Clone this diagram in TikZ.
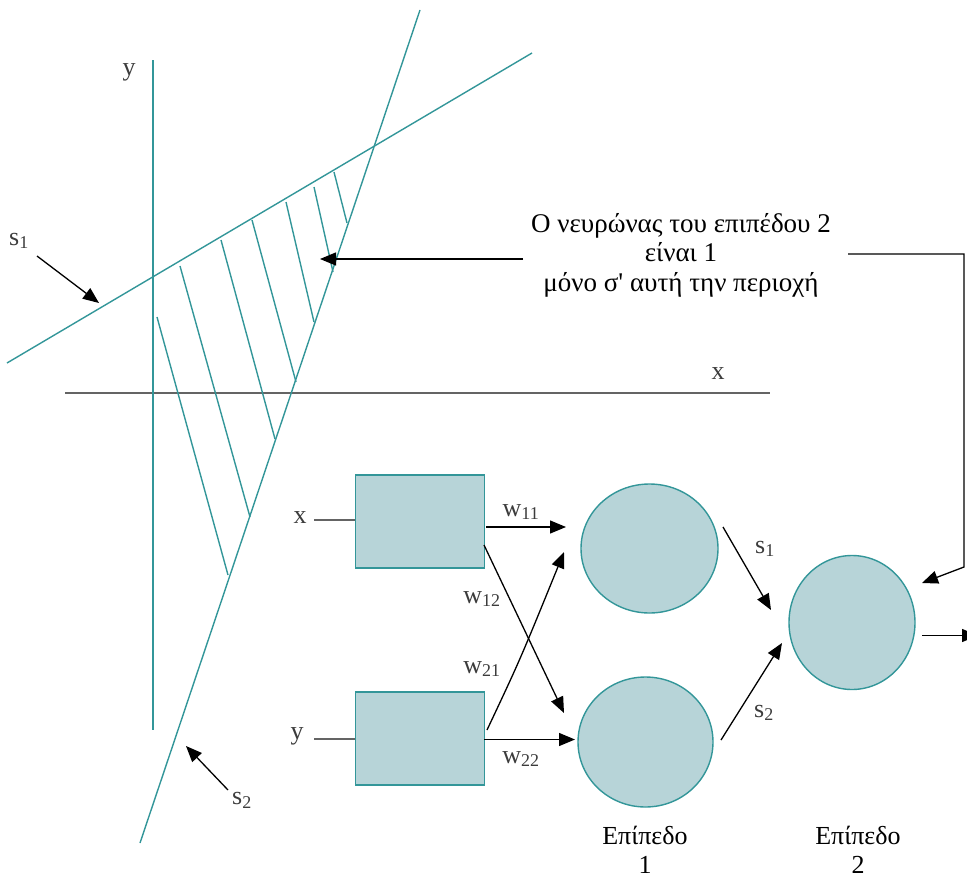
\documentclass[tikz,border=0pt]{standalone}
\usepackage{fontspec}
\setmainfont{Liberation Serif}
\newfontfamily\noligserif{Liberation Serif}[Ligatures=TeXOff]
\usetikzlibrary{arrows.meta,shapes.geometric,calc}
\definecolor{teal1}{RGB}{51,150,153}
\definecolor{fillc}{RGB}{183,212,216}
\definecolor{axisg}{RGB}{100,100,100}
\definecolor{txtg}{RGB}{60,60,60}
\newcommand{\subsz}[1]{\textsubscript{\fontsize{18}{18}\selectfont #1}}
\tikzset{
  tline/.style={draw=teal1, line width=1.4pt},
  arr/.style={draw=black, line width=1.3pt, -{Triangle[length=16pt,width=13pt]}},
  boxn/.style={draw=teal1, fill=fillc, line width=1.4pt, minimum width=129pt, minimum height=93pt, inner sep=0pt},
  neur/.style={ellipse, draw=teal1, fill=fillc, line width=1.4pt, inner sep=0pt},
  lbl/.style={text=txtg, font=\fontsize{26}{28}\selectfont, inner sep=0pt},
  btxt/.style={text=black, font=\fontsize{27}{29.5}\selectfont, inner sep=0pt, align=center},
  ltxt/.style={text=black, font=\fontsize{26}{29}\selectfont, inner sep=0pt, align=center},
}
\begin{document}
\begin{tikzpicture}[x=1pt,y=-1pt]
\useasboundingbox (0,0) rectangle (967,881);
% axes
\draw[draw=axisg, line width=1.4pt] (65,393) -- (770,393);
\draw[tline] (153,60) -- (153,730);
\node[lbl] (ylab) at (129,72) {y};
\node[lbl] (xlab) at (718,374) {x};
% decision lines
\draw[tline] (7,363) -- (532,53);
\draw[tline] (140,843) -- (420,10);
% hatching
\draw[tline] (157,317) -- (228,575);
\draw[tline] (180,266) -- (250,517);
\draw[tline] (221,240) -- (275,439);
\draw[tline] (252,220) -- (296,382);
\draw[tline] (286,202) -- (314,322);
\draw[tline] (314,187) -- (333,272);
\draw[tline] (334,172) -- (347,223);
% s1, s2 labels of lines
\node[lbl] (s1l) at (19,241) {s\subsz{1}};
\coordinate (s1a) at (37,256);
\coordinate (s1b) at (99,303);
\draw[arr] (s1a) -- (s1b);
\node[lbl] (s2l) at (242,800) {s\subsz{2}};
\coordinate (s2a) at (228,790);
\coordinate (s2b) at (186,746);
\draw[arr] (s2a) -- (s2b);
% callout
\node[btxt] (call) at (681,255) {Ο νευρώνας του επιπέδου 2\\είναι 1\\μόνο σ{\noligserif '} αυτή την περιοχή};
\coordinate (ca) at (523,259);
\coordinate (cb) at (320,259);
\draw[arr] (ca) -- (cb);
% network
\node[boxn] (b1) at (420,521.5) {};
\node[boxn] (b2) at (420,738.5) {};
\node[neur, minimum width=137pt, minimum height=129pt] (c1) at (649.5,548.5) {};
\node[neur, minimum width=135pt, minimum height=130pt] (c2) at (645.5,742) {};
\node[neur, minimum width=126pt, minimum height=134pt] (c3) at (852,622.5) {};
% inputs
\node[lbl] (xin) at (300,518) {x};
\node[lbl] (yin) at (297,736) {y};
\draw[draw=axisg, line width=1.4pt] (314,520) -- (b1.west |- 0,520);
\draw[draw=axisg, line width=1.4pt] (314,739) -- (b2.west |- 0,739);
% weights
\coordinate (w11s) at (486,527);
\coordinate (w11e) at (566,527);
\draw[arr] (w11s) -- (w11e);
\coordinate (w12s) at (484,545);
\coordinate (w12e) at (564,713);
\draw[arr] (w12s) -- (w12e);
\coordinate (w21s) at (487,730);
\coordinate (w21e) at (564,552);
\draw[arr] (w21s) .. controls (520,660) .. (w21e);
\coordinate (w22s) at (484,739.5);
\coordinate (w22e) at (575,739.5);
\draw[arr] (w22s) -- (w22e);
\node[lbl] (w11) at (521,512) {w\subsz{11}};
\node[lbl] (w12) at (482,599) {w\subsz{12}};
\node[lbl] (w21) at (482,669) {w\subsz{21}};
\node[lbl] (w22) at (521,759) {w\subsz{22}};
% layer 1 -> layer 2
\coordinate (o1s) at (723,527);
\coordinate (o1e) at (771,610);
\draw[arr] (o1s) -- (o1e);
\coordinate (o2s) at (721,740);
\coordinate (o2e) at (782,643);
\draw[arr] (o2s) -- (o2e);
\node[lbl] (s1n) at (765,549) {s\subsz{1}};
\node[lbl] (s2n) at (764,713) {s\subsz{2}};
% output
\coordinate (outs) at (922,635.5);
\coordinate (oute) at (978,635.5);
\draw[arr] (outs) -- (oute);
% callout to output neuron
\coordinate (k1) at (848,254);
\coordinate (k2) at (964,254);
\coordinate (k3) at (964,567);
\coordinate (k4) at (922,583);
\draw[arr] (k1) -- (k2) -- (k3) -- (k4);
% layer labels
\node[ltxt] (lay1) at (645,850) {Επίπεδο\\1};
\node[ltxt] (lay2) at (858,850) {Επίπεδο\\2};
\end{tikzpicture}
\end{document}
